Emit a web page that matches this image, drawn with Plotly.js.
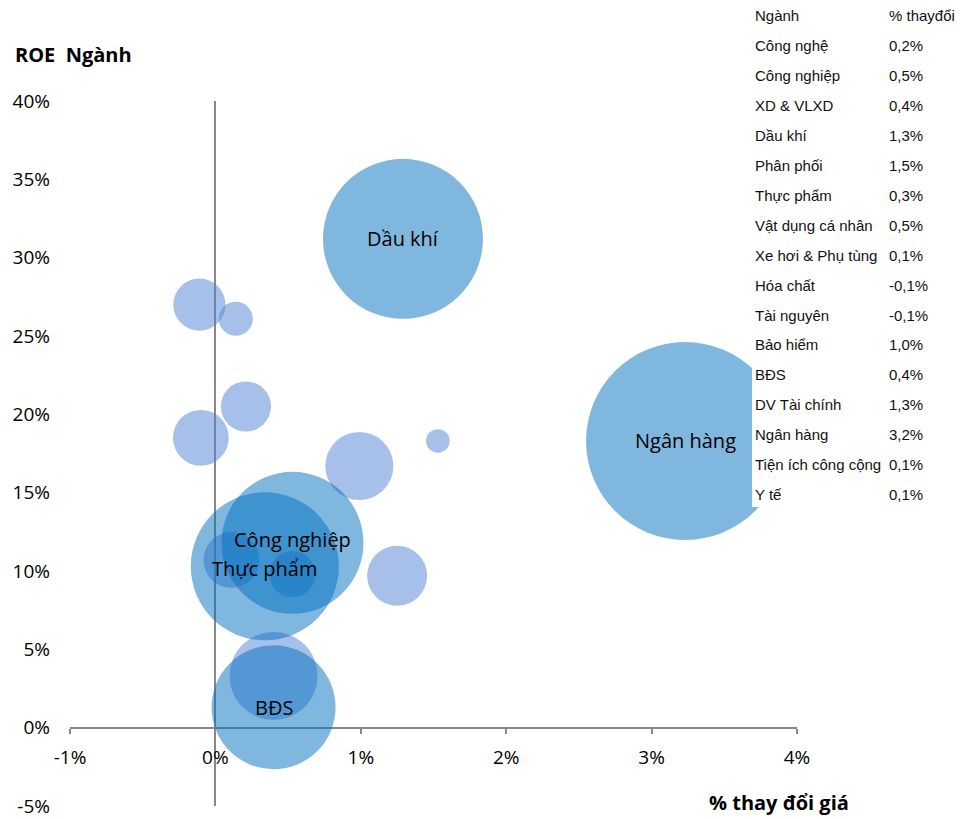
<!DOCTYPE html>
<html>
<head>
<meta charset="utf-8">
<script src="https://cdn.plot.ly/plotly-3.0.1.min.js"></script>
<style>
html,body{margin:0;padding:0;background:#fff;}
#chart{width:974px;height:819px;}
</style>
</head>
<body>
<div id="chart"></div>
<script>
// ---- Data ----
const sectors = ["Công nghệ","Công nghiệp","XD & VLXD","Dầu khí","Phân phối","Thực phẩm","Vật dụng cá nhân","Xe hơi & Phụ tùng","Hóa chất","Tài nguyên","Bảo hiểm","BĐS","DV Tài chính","Ngân hàng","Tiện ích công cộng"];
const priceChange = [0.21, 0.53, 0.40, 1.29, 1.53, 0.34, 0.53, 0.14, -0.11, -0.10, 0.99, 0.40, 1.25, 3.23, 0.11];
const roe = [20.5, 11.8, 3.3, 31.2, 18.3, 10.3, 9.8, 26.1, 27.0, 18.5, 16.7, 1.3, 9.7, 18.3, 10.7];
const marketSize = [6.3, 50.4, 19.4, 64, 1.4, 54.8, 5.3, 2.9, 6.8, 7.8, 11.6, 38.4, 9.0, 98, 7.8];
const labeledSectors = ["Dầu khí","Ngân hàng","Công nghiệp","Thực phẩm","BĐS"];

const xTicks = [-1, 0, 1, 2, 3, 4];
const yTicks = [-5, 0, 5, 10, 15, 20, 25, 30, 35, 40];

const tableHeader = ["Ngành", "% thayđổi"];
const tableSectors = ["Công nghệ","Công nghiệp","XD & VLXD","Dầu khí","Phân phối","Thực phẩm","Vật dụng cá nhân","Xe hơi & Phụ tùng","Hóa chất","Tài nguyên","Bảo hiểm","BĐS","DV Tài chính","Ngân hàng","Tiện ích công cộng","Y tế"];
const tableChange = ["0,2%","0,5%","0,4%","1,3%","1,5%","0,3%","0,5%","0,1%","-0,1%","-0,1%","1,0%","0,4%","1,3%","3,2%","0,1%","0,1%"];

// ---- Layout constants ----
const W = 974, H = 819;
const M = {l: 70, r: 177, t: 101, b: 13};
const PW = W - M.l - M.r, PH = H - M.t - M.b;
const px2x = p => (p - M.l) / PW;
const px2y = p => (H - M.b - p) / PH;
const X_RANGE = [-1, 4], Y_RANGE = [-5, 40];

const FONT = "Open Sans, Noto Sans, sans-serif";
const TABLE_FONT = "Liberation Sans, Arial, sans-serif";
const DARK = "rgba(0,112,192,0.5)";
const LIGHT = "rgba(79,129,211,0.5)";
// small vertical nudges (px) so the two stacked labels do not collide
const LABEL_SHIFT = {"Công nghiệp": 3, "Thực phẩm": -2};

function pick(cond) {
  const idx = sectors.map((s, i) => i).filter(i => cond(sectors[i]));
  return {
    x: idx.map(i => priceChange[i]),
    y: idx.map(i => roe[i]),
    s: idx.map(i => marketSize[i]),
    n: idx.map(i => sectors[i])
  };
}
const light = pick(s => !labeledSectors.includes(s));
const dark = pick(s => labeledSectors.includes(s));

const SIZEREF = 0.005;

const traces = [
  {
    type: "scatter", mode: "markers",
    x: light.x, y: light.y, text: light.n, hoverinfo: "text+x+y",
    marker: {size: light.s, sizemode: "area", sizeref: SIZEREF, color: LIGHT, opacity: 1, line: {width: 0}},
    cliponaxis: false, showlegend: false
  },
  {
    type: "scatter", mode: "markers",
    x: dark.x, y: dark.y, text: dark.n,
    hoverinfo: "text+x+y",
    marker: {size: dark.s, sizemode: "area", sizeref: SIZEREF, color: DARK, opacity: 1, line: {width: 0}},
    cliponaxis: false, showlegend: false
  }
];

const annotations = [
  {text: "<b>ROE  Ngành</b>", xref: "paper", yref: "paper", x: px2x(13), y: px2y(55),
   xanchor: "left", yanchor: "middle", showarrow: false, font: {family: FONT, size: 20, color: "#000"}},
  {text: "<b>% thay đổi giá</b>", xref: "paper", yref: "paper", x: px2x(779), y: px2y(802),
   xanchor: "center", yanchor: "middle", showarrow: false, font: {family: FONT, size: 20, color: "#000"}}
];
// bubble labels placed at the bubbles' data coordinates
dark.n.forEach((name, i) => {
  annotations.push({text: name, xref: "x", yref: "y", x: dark.x[i], y: dark.y[i],
    xanchor: "center", yanchor: "middle", showarrow: false, borderpad: 0,
    yshift: LABEL_SHIFT[name] || 0,
    font: {family: FONT, size: 20, color: "#000"}});
});
const rowY0 = 16, rowStep = 29.9;
const col1 = 753, col2 = 887;
const tableRows = [tableHeader].concat(tableSectors.map((s, i) => [s, tableChange[i]]));
tableRows.forEach((row, r) => {
  const yy = px2y(rowY0 + r * rowStep);
  annotations.push({text: row[0], xref: "paper", yref: "paper", x: px2x(col1), y: yy,
    xanchor: "left", yanchor: "middle", showarrow: false, font: {family: TABLE_FONT, size: 15, color: "#111"}});
  annotations.push({text: row[1], xref: "paper", yref: "paper", x: px2x(col2), y: yy,
    xanchor: "left", yanchor: "middle", showarrow: false, font: {family: TABLE_FONT, size: 15, color: "#111"}});
});

const layout = {
  width: W, height: H,
  margin: M,
  paper_bgcolor: "#fff", plot_bgcolor: "rgba(0,0,0,0)",
  font: {family: FONT, size: 19, color: "#000"},
  showlegend: false,
  xaxis: {
    range: X_RANGE, tickvals: xTicks, ticktext: xTicks.map(v => v + "%"),
    showgrid: false, showline: false,
    zeroline: true, zerolinecolor: "#888", zerolinewidth: 2,
    anchor: "free", position: (0 - Y_RANGE[0]) / (Y_RANGE[1] - Y_RANGE[0]),
    ticks: "outside", ticklen: 5, tickwidth: 2, tickcolor: "#888",
    ticklabelstandoff: 8,
    tickfont: {family: FONT, size: 19, color: "#000"}, fixedrange: true
  },
  yaxis: {
    range: Y_RANGE, tickvals: yTicks, ticktext: yTicks.map(v => v + "%"),
    showgrid: false, showline: false,
    zeroline: true, zerolinecolor: "#888", zerolinewidth: 2,
    ticks: "", ticklabelstandoff: 19,
    tickfont: {family: FONT, size: 19, color: "#000"}, fixedrange: true
  },
  shapes: [
    {type: "rect", xref: "paper", yref: "paper", x0: px2x(752), x1: px2x(W + 20), y0: px2y(507), y1: px2y(-20),
     fillcolor: "#fff", line: {width: 0}, layer: "above"}
  ],
  annotations: annotations
};

Plotly.newPlot("chart", traces, layout, {displayModeBar: false, staticPlot: true});
</script>
</body>
</html>
